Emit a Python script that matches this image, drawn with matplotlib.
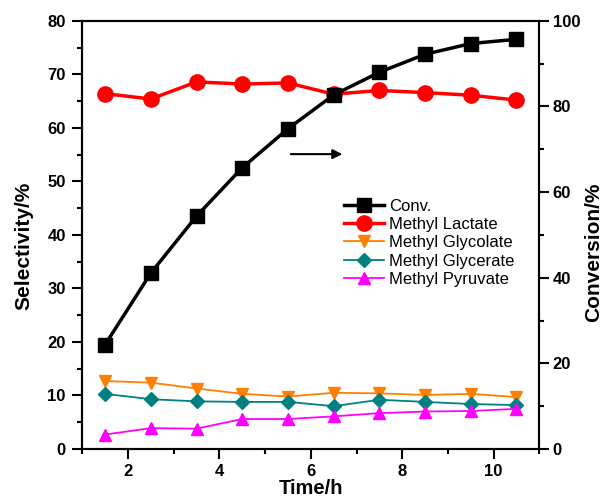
import numpy as np
import matplotlib
matplotlib.use("Agg")
import matplotlib.pyplot as plt
from matplotlib.ticker import MultipleLocator

plt.rcParams['font.family'] = ['Liberation Sans', 'DejaVu Sans']

# data
time_h = [1.5, 2.5, 3.5, 4.5, 5.5, 6.5, 7.5, 8.5, 9.5, 10.5]
conv = [24.4, 41.1, 54.4, 65.7, 74.8, 82.7, 88.0, 92.2, 94.7, 95.7]
lactate = [66.4, 65.4, 68.6, 68.2, 68.4, 66.3, 67.0, 66.6, 66.1, 65.2]
glycolate = [12.7, 12.4, 11.3, 10.3, 9.8, 10.5, 10.4, 10.1, 10.3, 9.7]
glycerate = [10.3, 9.3, 8.9, 8.8, 8.8, 8.0, 9.2, 8.8, 8.4, 8.2]
pyruvate = [2.7, 3.9, 3.8, 5.6, 5.6, 6.1, 6.7, 7.0, 7.1, 7.5]

fig = plt.figure(figsize=(6.03, 4.97), dpi=100)
ax = fig.add_axes([0.1365, 0.0966, 0.7579, 0.8614])
ax2 = ax.twinx()

l1, = ax2.plot(time_h, conv, color='black', lw=2.5, marker='s', ms=10, label='Conv.')
l2, = ax.plot(time_h, lactate, color='#ff0000', lw=2.5, marker='o', ms=11, label='Methyl Lactate')
l3, = ax.plot(time_h, glycolate, color='#ff8000', lw=1.3, marker='v', ms=9, label='Methyl Glycolate')
l4, = ax.plot(time_h, glycerate, color='#008080', lw=1.3, marker='D', ms=7.5, label='Methyl Glycerate')
l5, = ax.plot(time_h, pyruvate, color='#ff00ff', lw=1.3, marker='^', ms=9, label='Methyl Pyruvate')

ax.set_xlim(1, 11)
ax.set_ylim(0, 80)
ax2.set_ylim(0, 100)
ax.xaxis.set_major_locator(MultipleLocator(2))
ax.xaxis.set_minor_locator(MultipleLocator(1))
ax.yaxis.set_major_locator(MultipleLocator(10))
ax.yaxis.set_minor_locator(MultipleLocator(5))
ax2.yaxis.set_major_locator(MultipleLocator(20))
ax2.yaxis.set_minor_locator(MultipleLocator(10))

for a in (ax, ax2):
    a.tick_params(which='major', direction='out', length=7, width=1.5, labelsize=12)
    a.tick_params(which='minor', direction='out', length=3.5, width=1.5)
    for s in a.spines.values():
        s.set_linewidth(1.5)
    for lab in a.get_xticklabels() + a.get_yticklabels():
        lab.set_fontweight('bold')
ax.tick_params(axis='y', pad=5)
ax.tick_params(axis='x', pad=4)
ax2.tick_params(axis='y', pad=2.5)

ax.set_xlabel('Time/h', fontsize=14.5, fontweight='bold', labelpad=0)
ax.set_ylabel('Selectivity/%', fontsize=15, fontweight='bold')
ax2.set_ylabel('Conversion/%', fontsize=15, fontweight='bold')
ax.yaxis.set_label_coords(-0.107, 0.475)
ax2.yaxis.set_label_coords(1.097, 0.46)

ax.annotate('', xy=(6.75, 55.1), xytext=(5.5, 55.1),
            arrowprops=dict(arrowstyle='-|>', color='black', lw=1.5, mutation_scale=14))

ax.legend(handles=[l1, l2, l3, l4, l5], loc='upper left', bbox_to_anchor=(0.548, 0.612),
          frameon=False, fontsize=12, handlelength=2.4, labelspacing=0.2,
          handletextpad=0.3, borderpad=0.2)

fig.savefig('out.png', dpi=100)
